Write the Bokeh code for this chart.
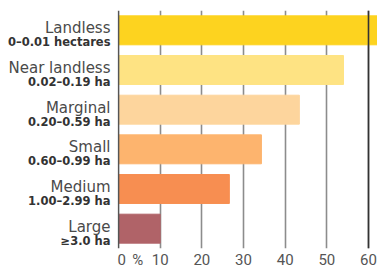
from bokeh.plotting import figure
from bokeh.models import ColumnDataSource, FactorRange, Range1d, Span, FixedTicker
from bokeh.layouts import row
from bokeh.core.properties import value
from bokeh.embed import file_html
from bokeh.resources import INLINE

categories = ["Landless", "Near landless", "Marginal", "Small", "Medium", "Large"]
ranges = ["0\u20130.01 hectares", "0.02\u20130.19 ha", "0.20\u20130.59 ha",
          "0.60\u20130.99 ha", "1.00\u20132.99 ha", "\u22653.0 ha"]
values = [63, 54, 43.4, 34.3, 26.6, 10]
colors = ["#FDD31F", "#FEE383", "#FDD59D", "#FDB46E", "#F78E51", "#B06368"]
ticks = [0, 10, 20, 30, 40, 50, 60]
unit_label = "%"
unit_pos = 4.6

src = ColumnDataSource(dict(cat=categories, rng=ranges, val=values, color=colors,
                            lx=[110] * len(categories)))

yr = FactorRange(factors=list(reversed(categories)), range_padding=0)
H = 271
TOP = 10
BOT = 19


def style_xaxis(fig):
    fig.xaxis.ticker = FixedTicker(ticks=ticks + [unit_pos])
    fig.xaxis.major_label_overrides = {unit_pos: unit_label}
    fig.xaxis.axis_line_color = None
    fig.xaxis.major_tick_line_color = None
    fig.xaxis.minor_tick_line_color = None
    fig.xaxis.major_tick_in = 0
    fig.xaxis.major_tick_out = 0
    fig.xaxis.major_label_standoff = 2
    fig.xaxis.major_label_text_font = "Roboto"
    fig.xaxis.major_label_text_font_size = "15px"
    fig.xaxis.major_label_text_color = "#555555"


# left text panel
lp = figure(width=117, height=H, output_backend="svg", toolbar_location=None,
            y_range=yr, x_range=Range1d(0, 117), y_axis_location=None,
            min_border_left=0, min_border_right=0, min_border_top=TOP, min_border_bottom=BOT)
lp.outline_line_color = None
lp.grid.grid_line_color = None
style_xaxis(lp)
lp.xaxis.major_label_text_alpha = 0
lp.text(x="lx", y="cat", text="cat", source=src, y_offset=-2,
        text_align="right", text_baseline="alphabetic", text_font=value("DejaVu Sans"),
        text_font_size="15px", text_color="#4a4a4a")
lp.text(x="lx", y="cat", text="rng", source=src, y_offset=12,
        text_align="right", text_baseline="alphabetic", text_font=value("DejaVu Sans"),
        text_font_size="11.5px", text_font_style="bold", text_color="#333333")

# main bar panel
p = figure(width=260, height=H, output_backend="svg", toolbar_location=None,
           y_range=yr, x_range=Range1d(-0.25, 62.16), y_axis_location=None,
           min_border_left=0, min_border_right=0, min_border_top=TOP, min_border_bottom=BOT)
p.outline_line_color = None
p.background_fill_color = "white"

p.hbar(y="cat", left=0, right="val", height=0.73, color="color", source=src)

style_xaxis(p)
p.ygrid.grid_line_color = None
p.xgrid.ticker = FixedTicker(ticks=ticks[1:])
p.xgrid.grid_line_color = "#8c8c8c"
p.xgrid.grid_line_width = 1.6

p.add_layout(Span(location=ticks[-1], dimension="height", line_color="#333333", line_width=1.6))
p.add_layout(Span(location=ticks[0], dimension="height", line_color="#555555", line_width=1.6))

layout = row(lp, p, spacing=0)
open("out.html", "w").write(file_html(layout, INLINE))
